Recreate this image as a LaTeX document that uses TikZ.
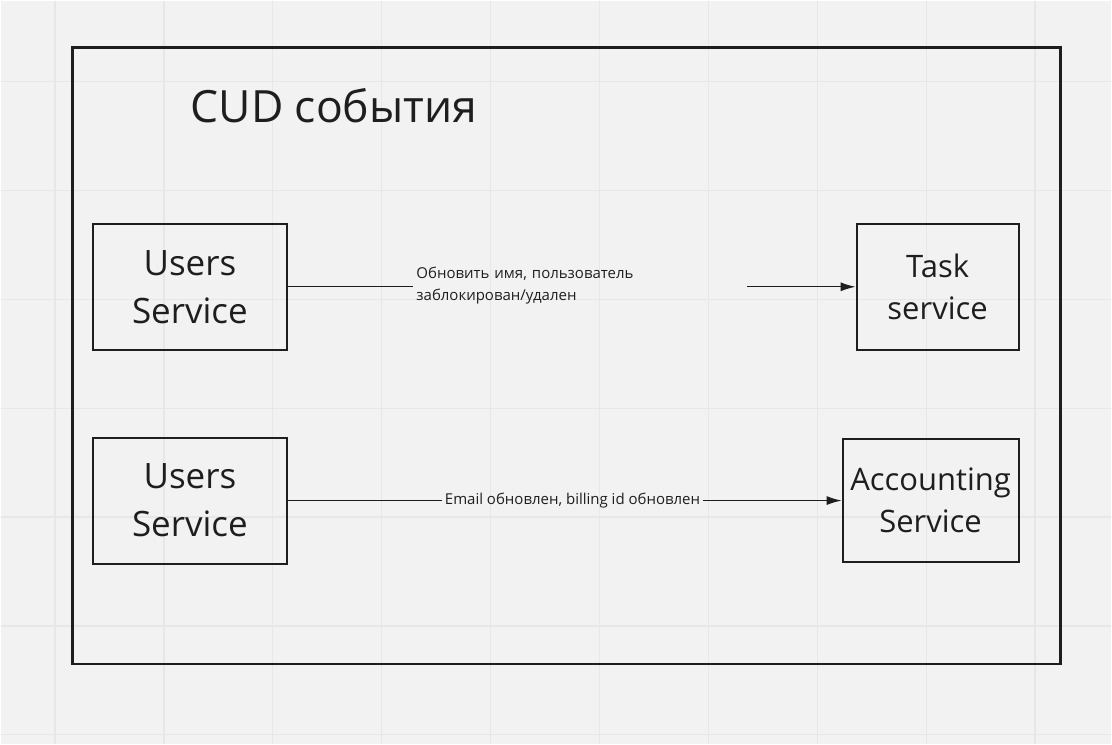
\documentclass[tikz,border=0pt]{standalone}
\usepackage{fontspec}
\setmainfont{Open Sans}
\usetikzlibrary{arrows.meta}
\definecolor{bg}{HTML}{F2F2F2}
\definecolor{gridc}{HTML}{E7E7E7}
\definecolor{ink}{HTML}{1E1E1E}
\begin{document}
\begin{tikzpicture}[x=1pt,y=-1pt,
  svc/.style={draw=ink, line width=2pt, text=ink, align=center, inner sep=0pt},
  big/.style={svc, font=\fontsize{35}{48}\selectfont},
  small/.style={svc, font=\fontsize{31}{42}\selectfont},
  lbl/.style={text=ink, font=\fontsize{15}{22}\selectfont, inner sep=3pt},
  flow/.style={draw=ink, line width=1.4pt},
  tip/.style={flow, -{Latex[length=15pt,width=9pt]}}]
\fill[bg] (0,0) rectangle (1112,744);
\foreach \i in {0,...,9} \draw[gridc, line width=1.2pt] ({54.5+109*\i},0)--++(0,744);
\foreach \j in {0,...,6} \draw[gridc, line width=1.2pt] (0,{81+109*\j})--++(1112,0);
\node[draw=ink, line width=2.3pt, minimum width=989pt, minimum height=617pt] (cud) at (566.5,355.5) {};
\node[anchor=base west, text=ink, inner sep=0pt, font=\fontsize{44.5}{54}\selectfont] (title) at (190,122) {CUD события};
\node[big, minimum width=194pt, minimum height=126pt] (us1) at (189.5,286.5) {Users\\Service};
\node[small, minimum width=162pt, minimum height=126pt] (task) at (938,286.5) {Task\\service};
\node[big, minimum width=194pt, minimum height=126pt] (us2) at (189.5,500.5) {Users\\Service};
\node[small, minimum width=176pt, minimum height=123pt] (acc) at (931,500.5) {Accounting\\Service};
\path (us1) -- node[lbl, pos=.515, text width=328pt, align=left, yshift=1pt] (upd) {Обновить имя, пользователь\\заблокирован/удален} (task);
\draw[flow] (us1) -- (upd.west |- us1);
\draw[tip] (upd.east |- us1) -- (task);
\path (us2) -- node[lbl, pos=.514] (eml) {Email обновлен, billing id обновлен} (acc);
\draw[flow] (us2) -- (eml);
\draw[tip] (eml) -- (acc);
\end{tikzpicture}
\end{document}
